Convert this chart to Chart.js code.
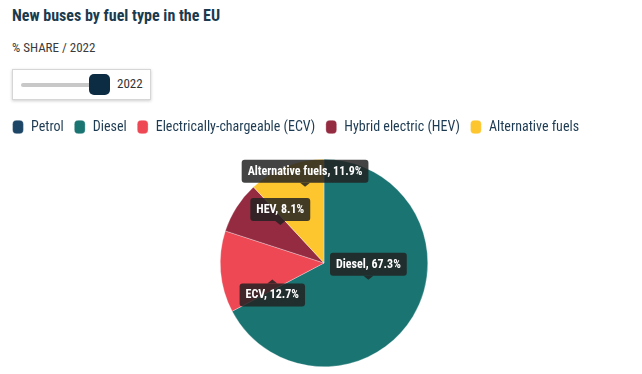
<!DOCTYPE html>
<html>
<head>
<meta charset="utf-8">
<script src="https://cdn.jsdelivr.net/npm/chart.js@4.4.1/dist/chart.umd.min.js"></script>
<style>
  html, body { margin: 0; padding: 0; background: #fff; }
  body { width: 642px; height: 374px; position: relative; overflow: hidden; font-family: "Roboto Condensed", Roboto, sans-serif; }
  #title { position: absolute; left: 12px; top: 6px; font-size: 16px; font-weight: 700; color: #1b3a4e; }
  #subtitle { position: absolute; left: 12px; top: 40px; font-size: 13px; color: #3a3a3a; }
  #slider { position: absolute; left: 12px; top: 69px; width: 137px; height: 29px; border: 1px solid #d6d6d6; box-shadow: 0 1px 3px rgba(0,0,0,0.2); background: #fff; }
  #track { position: absolute; left: 8px; top: 13px; width: 72px; height: 4px; background: #c8c8c8; border-radius: 2px; }
  #thumb { position: absolute; left: 76px; top: 4px; width: 21px; height: 21px; background: #0b2c42; border-radius: 5px; }
  #year { position: absolute; left: 104px; top: 6px; font-size: 13px; color: #333; }
  #wrap { position: absolute; left: 2px; top: 110px; width: 644px; height: 264px; }
</style>
</head>
<body>
<div id="title">New buses by fuel type in the EU</div>
<div id="subtitle">% SHARE / 2022</div>
<div id="slider"><div id="track"></div><div id="thumb"></div><div id="year">2022</div></div>
<div id="wrap"><canvas id="pie"></canvas></div>
<script>
// ── Data (share of new buses, 2022, %) ──
const fuels = ['Petrol', 'Diesel', 'Electrically-chargeable (ECV)', 'Hybrid electric (HEV)', 'Alternative fuels'];
const shortNames = ['Petrol', 'Diesel', 'ECV', 'HEV', 'Alternative fuels'];
const share2022 = [0, 67.3, 12.7, 8.1, 11.9];
const fuelColors = ['#1c4566', '#1a7472', '#ee4855', '#952b41', '#fdc62f'];

// label boxes drawn on top of the slices
const sliceLabels = {
    id: 'sliceLabels',
    afterDatasetsDraw(chart) {
        const ctx = chart.ctx;
        const meta = chart.getDatasetMeta(0);
        ctx.save();
        ctx.font = 'bold 12px "Roboto Condensed"';
        ctx.textAlign = 'center';
        ctx.textBaseline = 'middle';
        meta.data.forEach((arc, i) => {
            if (!share2022[i]) return;
            const p = arc.tooltipPosition();
            const below = i === 2;
            const tipY = below ? p.y + 12 : p.y - 10 + (i === 4 ? -18 : 0);
            const text = `${shortNames[i]}, ${share2022[i].toFixed(1)}%`;
            const w = ctx.measureText(text).width + 12, h = 23;
            const x0 = p.x - w / 2;
            const y0 = below ? tipY + 4 : tipY - 4 - h;
            ctx.fillStyle = 'rgba(34,34,34,0.85)';
            ctx.beginPath();
            ctx.roundRect(x0, y0, w, h, 3);
            ctx.fill();
            ctx.beginPath();
            if (below) {
                ctx.moveTo(p.x - 5, y0); ctx.lineTo(p.x, tipY); ctx.lineTo(p.x + 5, y0);
            } else {
                ctx.moveTo(p.x - 5, y0 + h); ctx.lineTo(p.x, tipY); ctx.lineTo(p.x + 5, y0 + h);
            }
            ctx.fill();
            ctx.fillStyle = '#fff';
            ctx.fillText(text, p.x, y0 + h / 2 + 0.5);
        });
        ctx.restore();
    }
};

// extra space under the legend
const legendGap = {
    id: 'legendGap',
    beforeInit(chart) {
        const fit = chart.legend.fit;
        chart.legend.fit = function () { fit.bind(chart.legend)(); this.height += 15; };
    }
};

new Chart(document.getElementById('pie'), {
    type: 'pie',
    data: {
        labels: fuels,
        datasets: [{
            data: share2022,
            backgroundColor: fuelColors,
            borderColor: 'rgba(255,255,255,0.6)',
            borderWidth: 0.5,
            hoverOffset: 0
        }]
    },
    options: {
        responsive: true,
        maintainAspectRatio: false,
        animation: false,
        layout: { padding: { bottom: 7 } },
        plugins: {
            tooltip: { enabled: false },
            legend: {
                position: 'top',
                align: 'start',
                labels: {
                    color: '#1d3b52',
                    font: { family: '"Roboto Condensed"', size: 14 },
                    boxWidth: 11,
                    boxHeight: 11,
                    padding: 10,
                    usePointStyle: true,
                    pointStyle: 'rectRounded',
                    pointStyleWidth: 12
                }
            }
        }
    },
    plugins: [sliceLabels, legendGap]
});
</script>
</body>
</html>
